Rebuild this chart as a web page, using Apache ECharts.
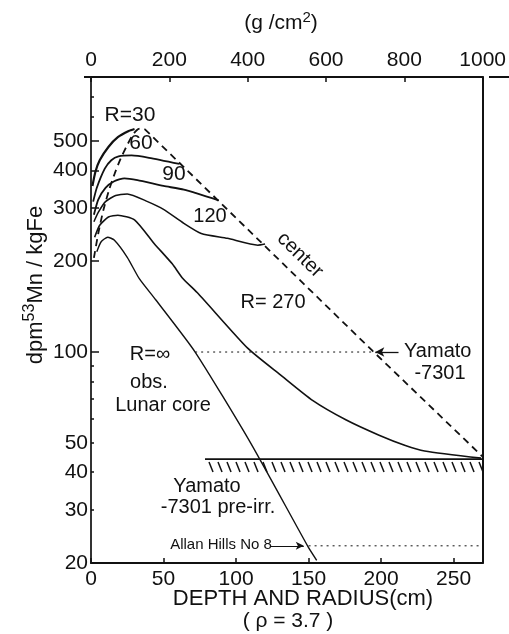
<!DOCTYPE html>
<html><head><meta charset="utf-8">
<script src="https://cdn.jsdelivr.net/npm/echarts@6/dist/echarts.min.js"></script>
<style>html,body{margin:0;padding:0;background:#fff}#c{width:509px;height:634px}</style>
</head><body><div id="c"></div>
<script>
// ---- data (depth in cm, activity in dpm 53Mn / kg Fe) ----
const depthTicks = [0, 50, 100, 150, 200, 250];
const massTicks = [0, 200, 400, 600, 800, 1000];
const yLabelTicks = [20, 30, 40, 50, 100, 200, 300, 400, 500];
const yLongTicks = [100, 200, 300, 400, 500];
const yShortTicks = [20, 30, 40, 50, 60, 70, 80, 90, 600, 700];

const r30 = [[1,355],[3,395],[6,432],[12,478],[18.5,515],[26,540],[30,548]];
const r60 = [[1.5,315],[4,350],[9.5,405],[14,432],[19,445],[28,448],[40,440],[61,420]];
const r90 = [[2,285],[5,320],[10,350],[16,368],[23,376],[32,371],[50,355],[64,345],[88,318]];
const r120 = [[2,270],[5,290],[10,315],[17,330],[25,334],[39,315],[50,297],[64,267],[76,247],[94,238],[115,226],[120,228]];
const r270 = [[2.5,240],[6,263],[12,280],[18.5,284],[30,274],[43.5,229],[56,196],[63,176],[74,156],[108,103],[130.6,84],[153,69],[176,59.5],[198.6,53],[216.7,49],[230,47],[269,44.5]];
const rInf = [[4,215],[7,232],[11.5,240],[16,235],[25,206],[33.3,175],[44.6,149],[71.8,100],[110,50],[149.5,22.7],[155.6,20.4]];
const centerRise = [[2,205],[5,247],[8.5,295],[12.5,345],[16.5,392],[20.5,438],[24.5,480],[28.5,522],[31.5,543],[34,551],[37,548]];
const centerFall = [[37,548],[194,101],[270,45]];

const yamato = { value: 100, from: 71.8, to: 196, arrowFrom: 212 };
const allanHills = { value: 22.8, from: 150, to: 270, arrowFrom: 123.6, arrowTo: 146.7 };
const preIrr = { value: 44.2, from: 78.6, to: 270 };

const FONT = '"Liberation Sans", Arial, sans-serif';
const INK = '#111';

const chart = echarts.init(document.getElementById('c'), null, {renderer: 'canvas'});

function solid(name, data, w) {
  return { name, type: 'line', data, smooth: 0.2, symbol: 'none', xAxisIndex: 0, yAxisIndex: 0,
    lineStyle: { color: INK, width: w || 1.8 }, z: 5, silent: true };
}

const option = {
  animation: false,
  backgroundColor: '#fff',
  grid: { left: 91, right: 20, top: 77, bottom: 71 },
  xAxis: [
    { type: 'value', position: 'bottom', min: 0, max: 270,
      axisLine: { show: true, onZero: false, lineStyle: { color: INK, width: 2 } },
      axisTick: { show: true, inside: true, length: 5, customValues: depthTicks, lineStyle: { color: INK, width: 1.5 } },
      axisLabel: { customValues: depthTicks, fontSize: 21, fontFamily: FONT, color: INK, margin: 6 },
      splitLine: { show: false } },
    { type: 'value', position: 'top', min: 0, max: 1000, interval: 200,
      axisLine: { show: true, onZero: false, lineStyle: { color: INK, width: 2 } },
      axisTick: { show: true, inside: true, length: 5, customValues: massTicks, lineStyle: { color: INK, width: 1.5 } },
      axisLabel: { customValues: massTicks, fontSize: 21, fontFamily: FONT, color: INK, margin: 6, formatter: v => String(v) },
      splitLine: { show: false } }
  ],
  yAxis: [
    { type: 'log', logBase: 10, min: 20, max: 815, position: 'left',
      axisLine: { show: true, onZero: false, lineStyle: { color: '#333', width: 2 } },
      axisTick: { show: true, inside: true, length: 8, customValues: yLongTicks, lineStyle: { color: INK, width: 1.5 } },
      axisLabel: { customValues: yLabelTicks, fontSize: 21, fontFamily: FONT, color: INK, margin: 3 },
      splitLine: { show: false } },
    { type: 'log', logBase: 10, min: 20, max: 815, position: 'left',
      axisLine: { show: false },
      axisTick: { show: true, inside: true, length: 3, customValues: yShortTicks, lineStyle: { color: INK, width: 1.5 } },
      axisLabel: { show: false },
      splitLine: { show: false } },
    { type: 'log', logBase: 10, min: 20, max: 815, position: 'right',
      axisLine: { show: true, onZero: false, lineStyle: { color: INK, width: 2 } },
      axisTick: { show: false }, axisLabel: { show: false }, splitLine: { show: false } }
  ],
  series: [
    solid('R=30', r30, 2.2),
    solid('R=60', r60),
    solid('R=90', r90),
    solid('R=120', r120, 1.5),
    solid('R=270', r270, 1.6),
    solid('R=inf', rInf, 1.4),
    { name: 'center', type: 'line', data: centerRise, smooth: 0.2, symbol: 'none',
      lineStyle: { color: INK, width: 1.8, type: [7, 5] }, z: 4 },
    { name: 'center2', type: 'line', data: centerFall, smooth: false, symbol: 'none',
      lineStyle: { color: INK, width: 1.8, type: [7, 5] }, z: 4 },
    { name: 'Yamato-7301', type: 'line', symbol: 'none',
      data: [[yamato.from, yamato.value], [yamato.to, yamato.value]],
      lineStyle: { color: INK, width: 1, type: [2, 4] },
      markLine: { silent: true, symbol: ['none', 'arrow'], symbolSize: [7, 9], label: { show: false },
        lineStyle: { color: INK, width: 1.3, type: 'solid' },
        data: [[{ coord: [yamato.arrowFrom, yamato.value] }, { coord: [yamato.to, yamato.value] }]] } },
    { name: 'Allan Hills', type: 'line', symbol: 'none',
      data: [[allanHills.from, allanHills.value], [allanHills.to, allanHills.value]],
      lineStyle: { color: INK, width: 1, type: [2, 4] },
      markLine: { silent: true, symbol: ['none', 'arrow'], symbolSize: [6, 8], label: { show: false },
        lineStyle: { color: INK, width: 1.2, type: 'solid' },
        data: [[{ coord: [allanHills.arrowFrom, allanHills.value] }, { coord: [allanHills.arrowTo, allanHills.value] }]] } },
    { name: 'pre-irr', type: 'custom', data: [[preIrr.from, preIrr.to, preIrr.value]],
      renderItem: function (params, api) {
        const a = api.coord([api.value(0), api.value(2)]);
        const b = api.coord([api.value(1), api.value(2)]);
        const children = [{ type: 'line', shape: { x1: a[0], y1: a[1], x2: b[0], y2: b[1] },
          style: { stroke: INK, lineWidth: 1.8 } }];
        for (let x = a[0] + 4; x < b[0] - 2; x += 9) {
          children.push({ type: 'line', shape: { x1: x, y1: a[1] + 3, x2: x + 4, y2: a[1] + 13 },
            style: { stroke: INK, lineWidth: 1.5 } });
        }
        return { type: 'group', children };
      } }
  ],
  graphic: []
};

const txt = (text, x, y, size, extra) => Object.assign({
  type: 'text', x, y, style: { text, fontSize: size || 20, fontFamily: FONT, fill: INK, align: 'center', verticalAlign: 'middle' }
}, extra || {});

option.graphic = [
  { type: 'line', shape: { x1: 489, y1: 77, x2: 509, y2: 77 }, style: { stroke: INK, lineWidth: 2 } },
  { type: 'line', shape: { x1: 84, y1: 77, x2: 91, y2: 77 }, style: { stroke: INK, lineWidth: 2 } },
  { type: 'text', x: 281, y: 23, style: { text: '(g /cm{s|2})', fontSize: 21, fontFamily: FONT, fill: INK, align: 'center', verticalAlign: 'middle',
      rich: { s: { fontSize: 15, fontFamily: FONT, fill: INK, verticalAlign: 'top', padding: [0,0,10,0] } } } },
  txt('R=30', 130, 115, 21),
  txt('60', 141, 143, 21),
  txt('90', 174, 174, 21),
  txt('120', 210, 216, 20),
  txt('center', 300, 255, 20, { rotation: -0.77 }),
  txt('R= 270', 273, 302, 20),
  txt('R=∞', 150, 354, 20),
  txt('obs.', 149, 382, 20),
  txt('Lunar core', 163, 405, 20),
  { type: 'text', x: 404, y: 351, style: { text: 'Yamato', fontSize: 20, fontFamily: FONT, fill: INK, align: 'left', verticalAlign: 'middle' } },
  txt('-7301', 440, 373, 20),
  txt('Yamato', 207, 486, 20),
  txt('-7301 pre-irr.', 218, 507, 20),
  { type: 'text', x: 221, y: 545, style: { text: 'Allan Hills No 8', fontSize: 15, fontFamily: '"Liberation Sans Narrow", "Liberation Sans", sans-serif', fill: INK, align: 'center', verticalAlign: 'middle' } },
  txt('DEPTH AND RADIUS(cm)', 303, 599, 22),
  txt('( ρ = 3.7 )', 288, 621, 21),
  { type: 'text', x: 36, y: 285, rotation: Math.PI / 2,
    style: { text: 'dpm{s|53}Mn / kgFe', fontSize: 22, fontFamily: FONT, fill: INK, align: 'center', verticalAlign: 'middle',
      rich: { s: { fontSize: 16, fontFamily: FONT, fill: INK, verticalAlign: 'top', padding: [0,0,12,0] } } } }
];

chart.setOption(option);
</script>
</body></html>
